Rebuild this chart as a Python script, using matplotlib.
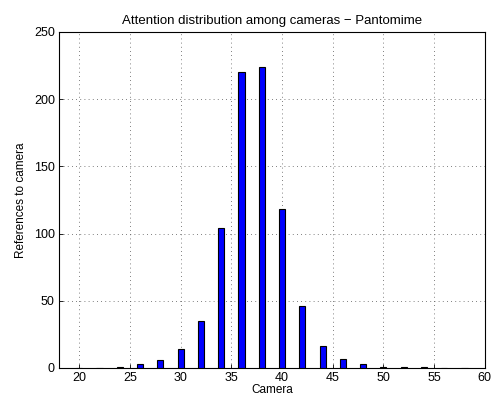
import matplotlib
matplotlib.use('Agg')
import matplotlib.pyplot as plt

plt.rcParams['font.family'] = ['Liberation Sans', 'DejaVu Sans']

# Referencias por cámara (sólo cámaras pares)
camaras = [20, 22, 24, 26, 28, 30, 32, 34, 36, 38, 40, 42, 44, 46, 48, 50, 52, 54, 56, 58]
referencias = [0, 0, 1, 3, 6, 14, 35, 104, 220, 224, 118, 46, 16, 7, 3, 1, 1, 1, 0, 0]
xticks = [20, 25, 30, 35, 40, 45, 50, 55, 60]
yticks = [0, 50, 100, 150, 200, 250]

fig = plt.figure(figsize=(4.94, 4.01), dpi=100)
ax = fig.add_axes([0.1194, 0.0823, 0.862, 0.838])

ax.bar(camaras, referencias, width=0.6, color='#0000ff', edgecolor='black',
       linewidth=0.8, zorder=3)

ax.set_xlim(18, 60)
ax.set_ylim(0, 250)
ax.set_xticks(xticks)
ax.set_yticks(yticks)
ax.tick_params(direction='in', labelsize=9, length=3, width=0.6)
ax.tick_params(axis='x', pad=3)
ax.tick_params(axis='y', pad=3)
ax.grid(True, linestyle=(0, (1, 4)), color='#555555', linewidth=0.6)
for s in ax.spines.values():
    s.set_linewidth(0.8)

ax.set_xlabel('Camera', fontsize=8.5, labelpad=0)
ax.set_ylabel('References to camera', fontsize=8.5, labelpad=5)
ax.set_title('Attention distribution among cameras \u2212 Pantomime', fontsize=9.5, pad=6)

fig.savefig('out.png', dpi=100)
